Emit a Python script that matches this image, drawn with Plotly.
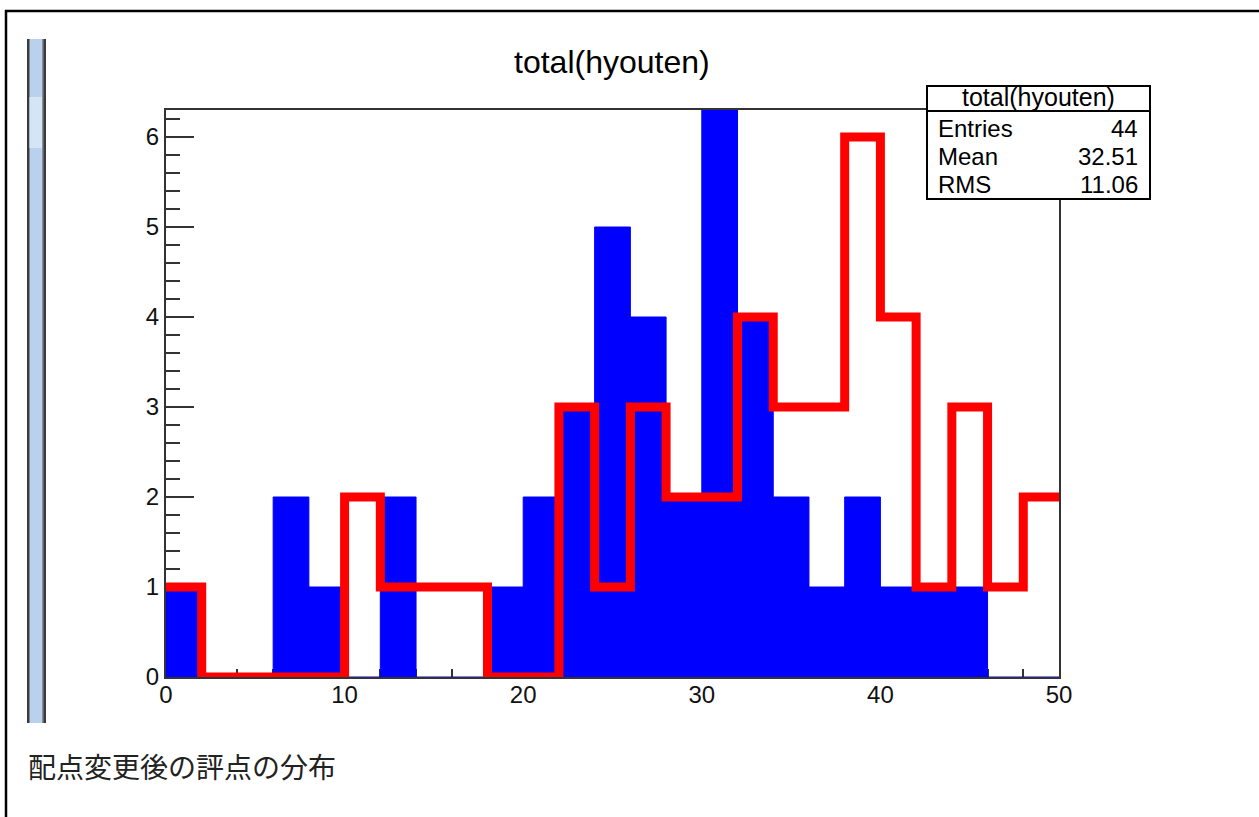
import plotly.graph_objects as go

# ---- data ----
bin_edges = list(range(0, 52, 2))
blue_counts = [1, 0, 0, 2, 1, 0, 2, 0, 0, 1, 2, 3, 5, 4, 2, 7, 4, 2, 1, 2, 1, 1, 1, 0, 0]
red_counts = [1, 0, 0, 0, 0, 2, 1, 1, 1, 0, 0, 3, 1, 3, 2, 2, 4, 3, 3, 6, 4, 1, 3, 1, 2]
x_ticks = [0, 10, 20, 30, 40, 50]
y_ticks = [0, 1, 2, 3, 4, 5, 6]
title_text = "total(hyouten)"
stats_title = "total(hyouten)"
stats_labels = ["Entries", "Mean", "RMS"]
stats_values = ["44", "32.51", "11.06"]
caption = "配点変更後の評点の分布"

W, H = 1259, 817
L, R, T, B = 166, 1059, 110, 677


def px(xp):
    return (xp - L) / (R - L)


def py(yp):
    return (B - yp) / (B - T)


step_x = bin_edges
blue_y = blue_counts + [blue_counts[-1]]
red_y = red_counts + [red_counts[-1]]

fig = go.Figure()
fig.add_trace(go.Scatter(
    x=step_x, y=blue_y, mode="lines", line=dict(color="#0000ff", width=1, shape="hv"),
    fill="tozeroy", fillcolor="#0000ff", hoverinfo="skip", showlegend=False))
fig.add_trace(go.Scatter(
    x=step_x, y=red_y, mode="lines", line=dict(color="#ff0000", width=9, shape="hv"),
    cliponaxis=False, hoverinfo="skip", showlegend=False))

axis_font = dict(family="Liberation Sans, Arial, sans-serif", size=24, color="#111")
fig.update_xaxes(
    range=[0, 50], tickvals=x_ticks, ticktext=[str(v) for v in x_ticks],
    ticks="inside", ticklen=17, tickwidth=2, tickcolor="#333",
    minor=dict(dtick=2, ticks="inside", ticklen=8, tickwidth=2, tickcolor="#333", showgrid=False),
    showline=True, linecolor="#333", linewidth=2, mirror=True, ticklabelstandoff=-5,
    showgrid=False, zeroline=False, tickfont=axis_font, layer="below traces")
fig.update_yaxes(
    range=[0, 6.3], tickvals=y_ticks, ticktext=[str(v) for v in y_ticks],
    ticks="inside", ticklen=28, tickwidth=2, tickcolor="#333",
    minor=dict(dtick=0.2, ticks="inside", ticklen=14, tickwidth=2, tickcolor="#333", showgrid=False),
    showline=True, linecolor="#333", linewidth=2, mirror=True,
    showgrid=False, zeroline=False, tickfont=axis_font, layer="below traces")

shapes = []
# outer document border (top and left)
shapes.append(dict(type="path", xref="paper", yref="paper",
                   path=f"M {px(6)},{py(817)} L {px(6)},{py(11)} L {px(1259)},{py(11)}",
                   line=dict(color="#000", width=2.5)))
# left window edge bar
shapes.append(dict(type="rect", xref="paper", yref="paper", x0=px(27), x1=px(46), y0=py(723), y1=py(39),
                   fillcolor="#3a3a3a", line=dict(width=0), layer="above"))
shapes.append(dict(type="rect", xref="paper", yref="paper", x0=px(29.5), x1=px(43), y0=py(723), y1=py(39),
                   fillcolor="#b9d1ec", line=dict(width=0), layer="above"))
shapes.append(dict(type="rect", xref="paper", yref="paper", x0=px(29.5), x1=px(43), y0=py(148), y1=py(97),
                   fillcolor="#d6e5f5", line=dict(width=0), layer="above"))
shapes.append(dict(type="rect", xref="paper", yref="paper", x0=px(42), x1=px(43.5), y0=py(723), y1=py(39),
                   fillcolor="#8a8f96", line=dict(width=0), layer="above"))
# stats box
shapes.append(dict(type="rect", xref="paper", yref="paper", x0=px(927), x1=px(1150), y0=py(199), y1=py(86),
                   fillcolor="#ffffff", line=dict(color="#000", width=2), layer="above"))
shapes.append(dict(type="line", xref="paper", yref="paper", x0=px(927), x1=px(1150), y0=py(111), y1=py(111),
                   line=dict(color="#000", width=2), layer="above"))
fig.update_layout(shapes=shapes)

ann = []
ann.append(dict(text=title_text, x=px(612), y=py(62), xref="paper", yref="paper", showarrow=False,
                xanchor="center", yanchor="middle",
                font=dict(family="Liberation Sans, Arial, sans-serif", size=32, color="#000")))
ann.append(dict(text=stats_title, x=px(1038), y=py(97), xref="paper", yref="paper", showarrow=False,
                xanchor="center", yanchor="middle",
                font=dict(family="Liberation Sans, Arial, sans-serif", size=25, color="#000")))
stat_font = dict(family="Liberation Sans, Arial, sans-serif", size=24, color="#000")
row_y = [128, 156, 184.5]
for lab, val, yy in zip(stats_labels, stats_values, row_y):
    ann.append(dict(text=lab, x=px(936), y=py(yy), xref="paper", yref="paper", showarrow=False,
                    xanchor="left", yanchor="middle", font=stat_font))
    ann.append(dict(text=val, x=px(1140), y=py(yy), xref="paper", yref="paper", showarrow=False,
                    xanchor="right", yanchor="middle", font=stat_font))
ann.append(dict(text=caption, x=px(26), y=py(766), xref="paper", yref="paper", showarrow=False,
                xanchor="left", yanchor="middle",
                font=dict(family="Noto Sans CJK JP, sans-serif", size=28, color="#222")))
fig.update_layout(annotations=ann)

fig.update_layout(
    width=W, height=H, margin=dict(l=L, r=W - R, t=T, b=H - B, pad=0),
    paper_bgcolor="#ffffff", plot_bgcolor="#ffffff", showlegend=False)

fig.write_html("out.html", config={"displayModeBar": False},
               post_script="document.body.style.margin='0';document.body.style.overflow='hidden';")
